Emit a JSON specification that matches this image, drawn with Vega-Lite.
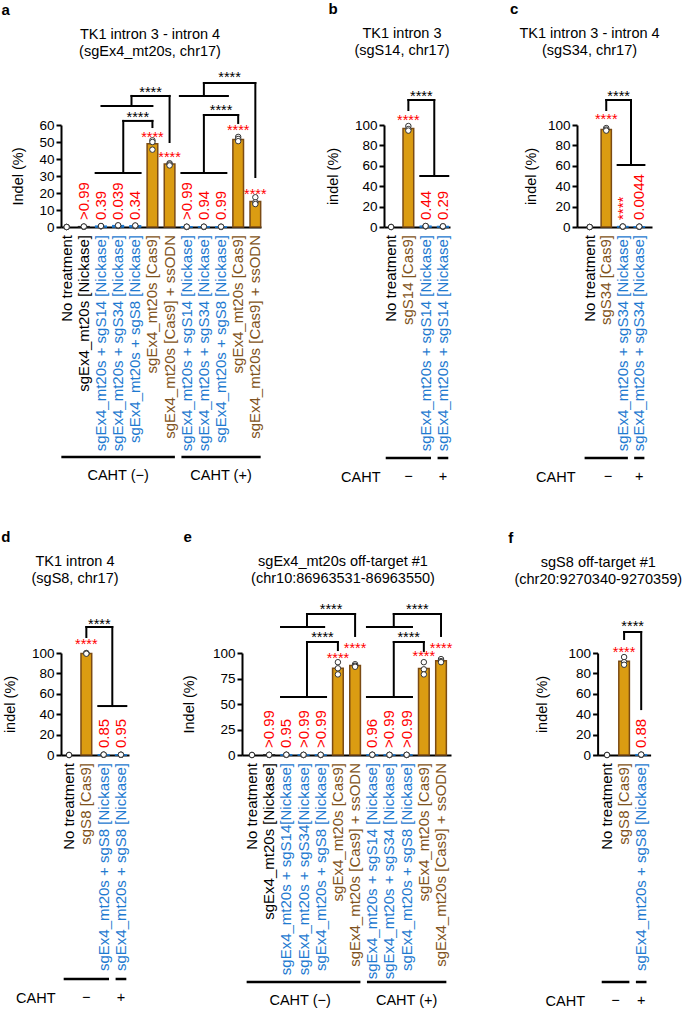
{
 "$schema": "https://vega.github.io/schema/vega-lite/v6.json",
 "padding": {"left": 1, "top": 2, "right": 0, "bottom": 0},
 "background": "white",
 "spacing": 46,
 "vconcat": [
  {"hconcat": [
   {"title": {"text": "a", "anchor": "start", "frame": "bounds", "fontSize": 15, "fontWeight": "bold", "offset": 9, "dx": -9.5},
    "bounds": "flush", "spacing": 230,
    "vconcat": [
     {"width": 200, "height": 102,
      "title": {"text": ["TK1 intron 3 - intron 4", "(sgEx4_mt20s, chr17)"], "frame": "group", "anchor": "middle", "dx": -11, "offset": 11, "lineHeight": 17},
      "resolve": {"scale": {"x": "independent"}},
      "layer": [
       {"layer": [
        {"data": {"name": "barsA", "values": [
          {"cat": "01", "label": "No treatment", "kind": "none", "val": 0},
          {"cat": "02", "label": "sgEx4_mt20s [Nickase]", "kind": "nick", "val": 0.2, "p": ">0.99"},
          {"cat": "03", "label": "sgEx4_mt20s + sgS14 [Nickase]", "kind": "combo", "val": 0.5, "p": "0.39"},
          {"cat": "04", "label": "sgEx4_mt20s + sgS34 [Nickase]", "kind": "combo", "val": 0.8, "p": "0.039"},
          {"cat": "05", "label": "sgEx4_mt20s + sgS8 [Nickase]", "kind": "combo", "val": 0.7, "p": "0.34"},
          {"cat": "06", "label": "sgEx4_mt20s [Cas9]", "kind": "cas9", "val": 49},
          {"cat": "07", "label": "sgEx4_mt20s [Cas9] + ssODN", "kind": "cas9", "val": 37},
          {"cat": "08", "label": "sgEx4_mt20s + sgS14 [Nickase]", "kind": "combo", "val": 0.1, "p": ">0.99"},
          {"cat": "09", "label": "sgEx4_mt20s + sgS34 [Nickase]", "kind": "combo", "val": 0.1, "p": "0.94"},
          {"cat": "10", "label": "sgEx4_mt20s + sgS8 [Nickase]", "kind": "combo", "val": 0.1, "p": "0.99"},
          {"cat": "11", "label": "sgEx4_mt20s [Cas9]", "kind": "cas9", "val": 51.5},
          {"cat": "12", "label": "sgEx4_mt20s [Cas9] + ssODN", "kind": "cas9", "val": 15}
         ]},
         "mark": {"type": "bar", "strokeWidth": 1.5},
         "encoding": {
          "x": {"field": "cat", "type": "nominal", "scale": {"paddingInner": 0.38, "paddingOuter": 0.02}, "axis": {"title": null, "labels": false, "ticks": false}},
          "y": {"field": "val", "type": "quantitative", "scale": {"domain": [0, 60], "nice": false}, "axis": {"title": "Indel (%)", "values": [0, 10, 20, 30, 40, 50, 60], "tickCount": 20, "titlePadding": 13, "labelOverlap": false}},
          "fill": {"field": "kind", "type": "nominal", "scale": {"domain": ["none", "nick", "combo", "cas9"], "range": ["rgba(0,0,0,0)", "#222222", "#1E7AD0", "#DB9C12"]}, "legend": null},
          "stroke": {"field": "kind", "type": "nominal", "scale": {"domain": ["none", "nick", "combo", "cas9"], "range": ["rgba(0,0,0,0)", "#222222", "#1E7AD0", "#7B4B14"]}, "legend": null}
         }},
        {"data": {"name": "barsA"},
         "mark": {"type": "text", "angle": 270, "align": "right", "baseline": "middle", "dx": -8, "fontSize": 15},
         "encoding": {"x": {"field": "cat", "type": "nominal"}, "y": {"datum": 0}, "text": {"field": "label"},
          "color": {"field": "kind", "type": "nominal", "scale": {"domain": ["none", "nick", "combo", "cas9"], "range": ["#000000", "#000000", "#1E7AD0", "#7F5320"]}, "legend": null}}},
        {"data": {"name": "barsA"}, "transform": [{"filter": "isValid(datum.p)"}],
         "mark": {"type": "text", "angle": 270, "align": "left", "baseline": "middle", "dx": 7, "fontSize": 15, "color": "#FF0000"},
         "encoding": {"x": {"field": "cat", "type": "nominal"}, "y": {"datum": 0}, "text": {"field": "p"}}},
        {"data": {"values": [
          {"cat": "01", "v": 0}, {"cat": "01", "v": 0}, {"cat": "01", "v": 0},
          {"cat": "02", "v": 0.1}, {"cat": "02", "v": 0.2}, {"cat": "02", "v": 0.3},
          {"cat": "03", "v": 0.4}, {"cat": "03", "v": 0.5}, {"cat": "03", "v": 0.6},
          {"cat": "04", "v": 0.6}, {"cat": "04", "v": 0.8}, {"cat": "04", "v": 1.0},
          {"cat": "05", "v": 0.5}, {"cat": "05", "v": 0.7}, {"cat": "05", "v": 0.9},
          {"cat": "06", "v": 51}, {"cat": "06", "v": 50}, {"cat": "06", "v": 45.5},
          {"cat": "07", "v": 37.5}, {"cat": "07", "v": 36.8}, {"cat": "07", "v": 36.2},
          {"cat": "08", "v": 0}, {"cat": "08", "v": 0.1}, {"cat": "08", "v": 0.2},
          {"cat": "09", "v": 0}, {"cat": "09", "v": 0.1}, {"cat": "09", "v": 0.2},
          {"cat": "10", "v": 0}, {"cat": "10", "v": 0.1}, {"cat": "10", "v": 0.2},
          {"cat": "11", "v": 53}, {"cat": "11", "v": 51.8}, {"cat": "11", "v": 50.5},
          {"cat": "12", "v": 17.5}, {"cat": "12", "v": 14.5}, {"cat": "12", "v": 13.5}
         ]},
         "mark": {"type": "point", "filled": true, "fill": "#ffffff", "stroke": "#333333", "strokeWidth": 1, "size": 30, "opacity": 1},
         "encoding": {"x": {"field": "cat", "type": "nominal"}, "y": {"field": "v", "type": "quantitative"}}},
        {"data": {"values": [{"cat": "06", "y": 54.1}, {"cat": "07", "y": 42.4}, {"cat": "11", "y": 58.2}, {"cat": "12", "y": 20.6}]},
         "mark": {"type": "text", "text": "****", "color": "#FF0000", "fontSize": 14.5, "baseline": "middle", "dy": 3},
         "encoding": {"x": {"field": "cat", "type": "nominal"}, "y": {"field": "y", "type": "quantitative"}}}
       ]},
       {"layer": [
        {"data": {"values": [
          {"x": 2.69, "x2": 5.31, "y": 31.8, "y2": 31.8}, {"x": 4.3, "x2": 4.3, "y": 31.8, "y2": 62.4}, {"x": 4.3, "x2": 6, "y": 62.4, "y2": 62.4}, {"x": 6, "x2": 6, "y": 62.4, "y2": 58.8},
          {"x": 3.03, "x2": 6.0, "y": 71.2, "y2": 71.2}, {"x": 4.78, "x2": 4.78, "y": 71.2, "y2": 77.1}, {"x": 4.78, "x2": 7, "y": 77.1, "y2": 77.1}, {"x": 7, "x2": 7, "y": 77.1, "y2": 50},
          {"x": 7.69, "x2": 10.31, "y": 31.8, "y2": 31.8}, {"x": 9, "x2": 9, "y": 31.8, "y2": 65.9}, {"x": 9, "x2": 11, "y": 65.9, "y2": 65.9}, {"x": 11, "x2": 11, "y": 65.9, "y2": 61.2},
          {"x": 7.6, "x2": 10.4, "y": 77.1, "y2": 77.1}, {"x": 9, "x2": 9, "y": 77.1, "y2": 84.7}, {"x": 9, "x2": 12, "y": 84.7, "y2": 84.7}, {"x": 12, "x2": 12, "y": 84.7, "y2": 29.4}
         ]},
         "mark": {"type": "rule", "strokeWidth": 2, "color": "#000000", "strokeCap": "square"},
         "encoding": {"x": {"field": "x", "type": "quantitative", "scale": {"domain": [0.67, 12.33], "nice": false, "zero": false}, "axis": null}, "x2": {"field": "x2"}, "y": {"field": "y", "type": "quantitative"}, "y2": {"field": "y2"}}},
        {"data": {"values": [{"x": 5.15, "y": 65.9}, {"x": 5.89, "y": 80.6}, {"x": 10, "y": 70}, {"x": 10.5, "y": 89.4}]},
         "mark": {"type": "text", "text": "****", "color": "#000000", "fontSize": 14.5, "baseline": "middle", "dy": 3},
         "encoding": {"x": {"field": "x", "type": "quantitative"}, "y": {"field": "y", "type": "quantitative"}}}
       ]}
      ]},
     {"width": 200, "height": 24,
      "data": {"values": [{"x": 0.69, "x2": 7.31, "m": 4, "t": "CAHT (−)"}, {"x": 7.69, "x2": 12.31, "m": 10, "t": "CAHT (+)"}]},
      "layer": [
       {"mark": {"type": "rule", "strokeWidth": 2.5, "color": "#000000"},
        "encoding": {"x": {"field": "x", "type": "quantitative", "scale": {"domain": [0.67, 12.33], "nice": false, "zero": false}, "axis": null}, "x2": {"field": "x2"},
         "y": {"datum": 1, "type": "quantitative", "scale": {"domain": [0, 1]}, "axis": null}}},
       {"mark": {"type": "text", "fontSize": 14.5, "baseline": "middle"},
        "encoding": {"x": {"field": "m", "type": "quantitative"}, "y": {"datum": 0.2}, "text": {"field": "t"}}}
      ]}
    ]},
   {"hconcat": [
   {"title": {"text": "b", "anchor": "start", "frame": "bounds", "fontSize": 15, "fontWeight": "bold", "offset": 9, "dx": 2.5},
    "bounds": "flush", "spacing": 231,
    "vconcat": [
     {"width": 66, "height": 102,
      "title": {"text": ["TK1 intron 3", "(sgS14, chr17)"], "frame": "group", "anchor": "middle", "dx": -15, "offset": 30, "lineHeight": 17},
      "resolve": {"scale": {"x": "independent"}},
      "layer": [
       {"layer": [
        {"data": {"name": "barsB", "values": [
          {"cat": "1", "label": "No treatment", "kind": "none", "val": 0},
          {"cat": "2", "label": "sgS14 [Cas9]", "kind": "cas9", "val": 96.5},
          {"cat": "3", "label": "sgEx4_mt20s + sgS14 [Nickase]", "kind": "combo", "val": 0.8, "p": "0.44"},
          {"cat": "4", "label": "sgEx4_mt20s + sgS14 [Nickase]", "kind": "combo", "val": 0.5, "p": "0.29"}
         ]},
         "mark": {"type": "bar", "strokeWidth": 1.5},
         "encoding": {
          "x": {"field": "cat", "type": "nominal", "scale": {"paddingInner": 0.38, "paddingOuter": 0.1}, "axis": {"title": null, "labels": false, "ticks": false}},
          "y": {"field": "val", "type": "quantitative", "scale": {"domain": [0, 100], "nice": false}, "axis": {"title": "indel (%)", "values": [0, 20, 40, 60, 80, 100], "tickCount": 20, "titlePadding": 13.5, "labelOverlap": false}},
          "fill": {"field": "kind", "type": "nominal", "scale": {"domain": ["none", "nick", "combo", "cas9"], "range": ["rgba(0,0,0,0)", "#222222", "#1E7AD0", "#DB9C12"]}, "legend": null},
          "stroke": {"field": "kind", "type": "nominal", "scale": {"domain": ["none", "nick", "combo", "cas9"], "range": ["rgba(0,0,0,0)", "#222222", "#1E7AD0", "#7B4B14"]}, "legend": null}
         }},
        {"data": {"name": "barsB"},
         "mark": {"type": "text", "angle": 270, "align": "right", "baseline": "middle", "dx": -8, "fontSize": 15},
         "encoding": {"x": {"field": "cat", "type": "nominal"}, "y": {"datum": 0}, "text": {"field": "label"},
          "color": {"field": "kind", "type": "nominal", "scale": {"domain": ["none", "nick", "combo", "cas9"], "range": ["#000000", "#000000", "#1E7AD0", "#7F5320"]}, "legend": null}}},
        {"data": {"name": "barsB"}, "transform": [{"filter": "isValid(datum.p)"}],
         "mark": {"type": "text", "angle": 270, "align": "left", "baseline": "middle", "dx": 7, "fontSize": 15, "color": "#FF0000"},
         "encoding": {"x": {"field": "cat", "type": "nominal"}, "y": {"datum": 0}, "text": {"field": "p"}}},
        {"data": {"values": [
          {"cat": "1", "v": 0}, {"cat": "1", "v": 0}, {"cat": "1", "v": 0},
          {"cat": "2", "v": 99}, {"cat": "2", "v": 96}, {"cat": "2", "v": 94.5},
          {"cat": "3", "v": 0.6}, {"cat": "3", "v": 0.8}, {"cat": "3", "v": 1.0},
          {"cat": "4", "v": 0.3}, {"cat": "4", "v": 0.5}, {"cat": "4", "v": 0.7}
         ]},
         "mark": {"type": "point", "filled": true, "fill": "#ffffff", "stroke": "#333333", "strokeWidth": 1, "size": 30, "opacity": 1},
         "encoding": {"x": {"field": "cat", "type": "nominal"}, "y": {"field": "v", "type": "quantitative"}}},
        {"data": {"values": [{"cat": "2", "y": 106.9}]},
         "mark": {"type": "text", "text": "****", "color": "#FF0000", "fontSize": 14.5, "baseline": "middle", "dy": 3},
         "encoding": {"x": {"field": "cat", "type": "nominal"}, "y": {"field": "y", "type": "quantitative"}}}
       ]},
       {"layer": [
        {"data": {"values": [
          {"x": 2.69, "x2": 4.31, "y": 50, "y2": 50}, {"x": 3.5, "x2": 3.5, "y": 50, "y2": 124.5}, {"x": 2, "x2": 3.5, "y": 124.5, "y2": 124.5}, {"x": 2, "x2": 2, "y": 124.5, "y2": 114.7}
         ]},
         "mark": {"type": "rule", "strokeWidth": 2, "color": "#000000", "strokeCap": "square"},
         "encoding": {"x": {"field": "x", "type": "quantitative", "scale": {"domain": [0.59, 4.41], "nice": false, "zero": false}, "axis": null}, "x2": {"field": "x2"}, "y": {"field": "y", "type": "quantitative"}, "y2": {"field": "y2"}}},
        {"data": {"values": [{"x": 2.75, "y": 130.4}]},
         "mark": {"type": "text", "text": "****", "color": "#000000", "fontSize": 14.5, "baseline": "middle", "dy": 3},
         "encoding": {"x": {"field": "x", "type": "quantitative"}, "y": {"field": "y", "type": "quantitative"}}}
       ]}
      ]},
     {"width": 66, "height": 24,
      "data": {"values": [{"x": 0.69, "x2": 3.31, "m": 2, "t": "−"}, {"x": 3.69, "x2": 4.31, "m": 4, "t": "+"}]},
      "layer": [
       {"mark": {"type": "rule", "strokeWidth": 2.5, "color": "#000000"},
        "encoding": {"x": {"field": "x", "type": "quantitative", "scale": {"domain": [0.59, 4.41], "nice": false, "zero": false}, "axis": null}, "x2": {"field": "x2"},
         "y": {"datum": 1, "type": "quantitative", "scale": {"domain": [0, 1]}, "axis": {"title": "CAHT", "domain": false, "ticks": false, "labels": false, "grid": false, "titleAngle": 0, "titleAlign": "right", "titleBaseline": "middle", "titleY": 19, "titlePadding": 4}}}},
       {"mark": {"type": "text", "fontSize": 14.5, "baseline": "middle"},
        "encoding": {"x": {"field": "m", "type": "quantitative"}, "y": {"datum": 0.2}, "text": {"field": "t"}}}
      ]}
    ]},
   {"title": {"text": "c", "anchor": "start", "frame": "bounds", "fontSize": 15, "fontWeight": "bold", "offset": 9, "dx": -9.5},
    "bounds": "flush", "spacing": 231,
    "vconcat": [
     {"width": 75, "height": 102,
      "title": {"text": ["TK1 intron 3 - intron 4", "(sgS34, chr17)"], "frame": "group", "anchor": "middle", "dx": -25, "offset": 30, "lineHeight": 17},
      "resolve": {"scale": {"x": "independent"}},
      "layer": [
       {"layer": [
        {"data": {"name": "barsC", "values": [
          {"cat": "1", "label": "No treatment", "kind": "none", "val": 0},
          {"cat": "2", "label": "sgS34 [Cas9]", "kind": "cas9", "val": 95.5},
          {"cat": "3", "label": "sgEx4_mt20s + sgS34 [Nickase]", "kind": "combo", "val": 0.4, "p": "****"},
          {"cat": "4", "label": "sgEx4_mt20s + sgS34 [Nickase]", "kind": "combo", "val": 0.3, "p": "0.0044"}
         ]},
         "mark": {"type": "bar", "strokeWidth": 1.5},
         "encoding": {
          "x": {"field": "cat", "type": "nominal", "scale": {"paddingInner": 0.38, "paddingOuter": 0.46}, "axis": {"title": null, "labels": false, "ticks": false}},
          "y": {"field": "val", "type": "quantitative", "scale": {"domain": [0, 100], "nice": false}, "axis": {"title": "indel (%)", "values": [0, 20, 40, 60, 80, 100], "tickCount": 20, "titlePadding": 8.5, "labelOverlap": false}},
          "fill": {"field": "kind", "type": "nominal", "scale": {"domain": ["none", "nick", "combo", "cas9"], "range": ["rgba(0,0,0,0)", "#222222", "#1E7AD0", "#DB9C12"]}, "legend": null},
          "stroke": {"field": "kind", "type": "nominal", "scale": {"domain": ["none", "nick", "combo", "cas9"], "range": ["rgba(0,0,0,0)", "#222222", "#1E7AD0", "#7B4B14"]}, "legend": null}
         }},
        {"data": {"name": "barsC"},
         "mark": {"type": "text", "angle": 270, "align": "right", "baseline": "middle", "dx": -8, "fontSize": 15},
         "encoding": {"x": {"field": "cat", "type": "nominal"}, "y": {"datum": 0}, "text": {"field": "label"},
          "color": {"field": "kind", "type": "nominal", "scale": {"domain": ["none", "nick", "combo", "cas9"], "range": ["#000000", "#000000", "#1E7AD0", "#7F5320"]}, "legend": null}}},
        {"data": {"name": "barsC"}, "transform": [{"filter": "isValid(datum.p)"}],
         "mark": {"type": "text", "angle": 270, "align": "left", "baseline": "middle", "dx": 7, "fontSize": 15, "color": "#FF0000"},
         "encoding": {"x": {"field": "cat", "type": "nominal"}, "y": {"datum": 0}, "text": {"field": "p"}}},
        {"data": {"values": [
          {"cat": "1", "v": 0}, {"cat": "1", "v": 0}, {"cat": "1", "v": 0},
          {"cat": "2", "v": 97}, {"cat": "2", "v": 95.5}, {"cat": "2", "v": 94.5},
          {"cat": "3", "v": 0.3}, {"cat": "3", "v": 0.4}, {"cat": "3", "v": 0.5},
          {"cat": "4", "v": 0.2}, {"cat": "4", "v": 0.3}, {"cat": "4", "v": 0.4}
         ]},
         "mark": {"type": "point", "filled": true, "fill": "#ffffff", "stroke": "#333333", "strokeWidth": 1, "size": 30, "opacity": 1},
         "encoding": {"x": {"field": "cat", "type": "nominal"}, "y": {"field": "v", "type": "quantitative"}}},
        {"data": {"values": [{"cat": "2", "y": 107.8}]},
         "mark": {"type": "text", "text": "****", "color": "#FF0000", "fontSize": 14.5, "baseline": "middle", "dy": 3},
         "encoding": {"x": {"field": "cat", "type": "nominal"}, "y": {"field": "y", "type": "quantitative"}}}
       ]},
       {"layer": [
        {"data": {"values": [
          {"x": 2.69, "x2": 4.31, "y": 60.8, "y2": 60.8}, {"x": 3.5, "x2": 3.5, "y": 60.8, "y2": 124.5}, {"x": 2, "x2": 3.5, "y": 124.5, "y2": 124.5}, {"x": 2, "x2": 2, "y": 124.5, "y2": 114.7}
         ]},
         "mark": {"type": "rule", "strokeWidth": 2, "color": "#000000", "strokeCap": "square"},
         "encoding": {"x": {"field": "x", "type": "quantitative", "scale": {"domain": [0.23, 4.77], "nice": false, "zero": false}, "axis": null}, "x2": {"field": "x2"}, "y": {"field": "y", "type": "quantitative"}, "y2": {"field": "y2"}}},
        {"data": {"values": [{"x": 2.75, "y": 130.4}]},
         "mark": {"type": "text", "text": "****", "color": "#000000", "fontSize": 14.5, "baseline": "middle", "dy": 3},
         "encoding": {"x": {"field": "x", "type": "quantitative"}, "y": {"field": "y", "type": "quantitative"}}}
       ]}
      ]},
     {"width": 75, "height": 24,
      "data": {"values": [{"x": 0.69, "x2": 3.31, "m": 2.1, "t": "−"}, {"x": 3.69, "x2": 4.31, "m": 4, "t": "+"}]},
      "layer": [
       {"mark": {"type": "rule", "strokeWidth": 2.5, "color": "#000000"},
        "encoding": {"x": {"field": "x", "type": "quantitative", "scale": {"domain": [0.23, 4.77], "nice": false, "zero": false}, "axis": null}, "x2": {"field": "x2"},
         "y": {"datum": 1, "type": "quantitative", "scale": {"domain": [0, 1]}, "axis": {"title": "CAHT", "domain": false, "ticks": false, "labels": false, "grid": false, "titleAngle": 0, "titleAlign": "right", "titleBaseline": "middle", "titleY": 19, "titlePadding": 2}}}},
       {"mark": {"type": "text", "fontSize": 14.5, "baseline": "middle"},
        "encoding": {"x": {"field": "m", "type": "quantitative"}, "y": {"datum": 0.2}, "text": {"field": "t"}}}
      ]}
    ]}
   ], "spacing": 58}
  ], "spacing": 58},
  {"hconcat": [
   {"title": {"text": "d", "anchor": "start", "frame": "bounds", "fontSize": 15, "fontWeight": "bold", "offset": 9, "dx": -1.5},
    "bounds": "flush", "spacing": 224,
    "vconcat": [
     {"width": 68, "height": 102,
      "title": {"text": ["TK1 intron 4", "(sgS8, chr17)"], "frame": "group", "anchor": "middle", "dx": -20, "offset": 30, "lineHeight": 17},
      "resolve": {"scale": {"x": "independent"}},
      "layer": [
       {"layer": [
        {"data": {"name": "barsD", "values": [
          {"cat": "1", "label": "No treatment", "kind": "none", "val": 0},
          {"cat": "2", "label": "sgS8 [Cas9]", "kind": "cas9", "val": 99.6},
          {"cat": "3", "label": "sgEx4_mt20s + sgS8 [Nickase]", "kind": "combo", "val": 0.3, "p": "0.85"},
          {"cat": "4", "label": "sgEx4_mt20s + sgS8 [Nickase]", "kind": "combo", "val": 0.2, "p": "0.95"}
         ]},
         "mark": {"type": "bar", "strokeWidth": 1.5},
         "encoding": {
          "x": {"field": "cat", "type": "nominal", "scale": {"paddingInner": 0.38, "paddingOuter": 0.155}, "axis": {"title": null, "labels": false, "ticks": false}},
          "y": {"field": "val", "type": "quantitative", "scale": {"domain": [0, 100], "nice": false}, "axis": {"title": "indel (%)", "values": [0, 20, 40, 60, 80, 100], "tickCount": 20, "titlePadding": 13.8, "labelOverlap": false}},
          "fill": {"field": "kind", "type": "nominal", "scale": {"domain": ["none", "nick", "combo", "cas9"], "range": ["rgba(0,0,0,0)", "#222222", "#1E7AD0", "#DB9C12"]}, "legend": null},
          "stroke": {"field": "kind", "type": "nominal", "scale": {"domain": ["none", "nick", "combo", "cas9"], "range": ["rgba(0,0,0,0)", "#222222", "#1E7AD0", "#7B4B14"]}, "legend": null}
         }},
        {"data": {"name": "barsD"},
         "mark": {"type": "text", "angle": 270, "align": "right", "baseline": "middle", "dx": -8, "fontSize": 15},
         "encoding": {"x": {"field": "cat", "type": "nominal"}, "y": {"datum": 0}, "text": {"field": "label"},
          "color": {"field": "kind", "type": "nominal", "scale": {"domain": ["none", "nick", "combo", "cas9"], "range": ["#000000", "#000000", "#1E7AD0", "#7F5320"]}, "legend": null}}},
        {"data": {"name": "barsD"}, "transform": [{"filter": "isValid(datum.p)"}],
         "mark": {"type": "text", "angle": 270, "align": "left", "baseline": "middle", "dx": 7, "fontSize": 15, "color": "#FF0000"},
         "encoding": {"x": {"field": "cat", "type": "nominal"}, "y": {"datum": 0}, "text": {"field": "p"}}},
        {"data": {"values": [
          {"cat": "1", "v": 0}, {"cat": "1", "v": 0}, {"cat": "1", "v": 0},
          {"cat": "2", "v": 100}, {"cat": "2", "v": 99.7}, {"cat": "2", "v": 99.3},
          {"cat": "3", "v": 0.2}, {"cat": "3", "v": 0.3}, {"cat": "3", "v": 0.4},
          {"cat": "4", "v": 0.1}, {"cat": "4", "v": 0.2}, {"cat": "4", "v": 0.3}
         ]},
         "mark": {"type": "point", "filled": true, "fill": "#ffffff", "stroke": "#333333", "strokeWidth": 1, "size": 30, "opacity": 1},
         "encoding": {"x": {"field": "cat", "type": "nominal"}, "y": {"field": "v", "type": "quantitative"}}},
        {"data": {"values": [{"cat": "2", "y": 110.8}]},
         "mark": {"type": "text", "text": "****", "color": "#FF0000", "fontSize": 14.5, "baseline": "middle", "dy": 3},
         "encoding": {"x": {"field": "cat", "type": "nominal"}, "y": {"field": "y", "type": "quantitative"}}}
       ]},
       {"layer": [
        {"data": {"values": [
          {"x": 2.69, "x2": 4.31, "y": 48, "y2": 48}, {"x": 3.5, "x2": 3.5, "y": 48, "y2": 125.5}, {"x": 2, "x2": 3.5, "y": 125.5, "y2": 125.5}, {"x": 2, "x2": 2, "y": 125.5, "y2": 115.7}
         ]},
         "mark": {"type": "rule", "strokeWidth": 2, "color": "#000000", "strokeCap": "square"},
         "encoding": {"x": {"field": "x", "type": "quantitative", "scale": {"domain": [0.535, 4.465], "nice": false, "zero": false}, "axis": null}, "x2": {"field": "x2"}, "y": {"field": "y", "type": "quantitative"}, "y2": {"field": "y2"}}},
        {"data": {"values": [{"x": 2.75, "y": 130.4}]},
         "mark": {"type": "text", "text": "****", "color": "#000000", "fontSize": 14.5, "baseline": "middle", "dy": 3},
         "encoding": {"x": {"field": "x", "type": "quantitative"}, "y": {"field": "y", "type": "quantitative"}}}
       ]}
      ]},
     {"width": 68, "height": 24,
      "data": {"values": [{"x": 0.69, "x2": 3.31, "m": 2, "t": "−"}, {"x": 3.69, "x2": 4.31, "m": 4, "t": "+"}]},
      "layer": [
       {"mark": {"type": "rule", "strokeWidth": 2.5, "color": "#000000"},
        "encoding": {"x": {"field": "x", "type": "quantitative", "scale": {"domain": [0.535, 4.465], "nice": false, "zero": false}, "axis": null}, "x2": {"field": "x2"},
         "y": {"datum": 1, "type": "quantitative", "scale": {"domain": [0, 1]}, "axis": {"title": "CAHT", "domain": false, "ticks": false, "labels": false, "grid": false, "titleAngle": 0, "titleAlign": "right", "titleBaseline": "middle", "titleY": 19, "titlePadding": 6}}}},
       {"mark": {"type": "text", "fontSize": 14.5, "baseline": "middle"},
        "encoding": {"x": {"field": "m", "type": "quantitative"}, "y": {"datum": 0.2}, "text": {"field": "t"}}}
      ]}
    ]},
   {"hconcat": [
   {"title": {"text": "e", "anchor": "start", "frame": "bounds", "fontSize": 15, "fontWeight": "bold", "offset": 9, "dx": 1.5},
    "bounds": "flush", "spacing": 227,
    "vconcat": [
     {"width": 209, "height": 102,
      "title": {"text": ["sgEx4_mt20s off-target #1", "(chr10:86963531-86963550)"], "frame": "group", "anchor": "middle", "dx": -3.5, "offset": 15, "lineHeight": 17},
      "resolve": {"scale": {"x": "independent"}},
      "layer": [
       {"layer": [
        {"data": {"name": "barsE", "values": [
          {"cat": "01", "label": "No treatment", "kind": "none", "val": 0},
          {"cat": "02", "label": "sgEx4_mt20s [Nickase]", "kind": "nick", "val": 0.1, "p": ">0.99"},
          {"cat": "03", "label": "sgEx4_mt20s + sgS14[Nickase]", "kind": "combo", "val": 0.2, "p": "0.95"},
          {"cat": "04", "label": "sgEx4_mt20s + sgS34[Nickase]", "kind": "combo", "val": 0.1, "p": ">0.99"},
          {"cat": "05", "label": "sgEx4_mt20s + sgS8 [Nickase]", "kind": "combo", "val": 0.1, "p": ">0.99"},
          {"cat": "06", "label": "sgEx4_mt20s [Cas9]", "kind": "cas9", "val": 85},
          {"cat": "07", "label": "sgEx4_mt20s [Cas9] + ssODN", "kind": "cas9", "val": 87.7},
          {"cat": "08", "label": "sgEx4_mt20s + sgS14 [Nickase]", "kind": "combo", "val": 0.2, "p": "0.96"},
          {"cat": "09", "label": "sgEx4_mt20s + sgS34 [Nickase]", "kind": "combo", "val": 0.1, "p": ">0.99"},
          {"cat": "10", "label": "sgEx4_mt20s + sgS8 [Nickase]", "kind": "combo", "val": 0.1, "p": ">0.99"},
          {"cat": "11", "label": "sgEx4_mt20s [Cas9]", "kind": "cas9", "val": 84.7},
          {"cat": "12", "label": "sgEx4_mt20s [Cas9] + ssODN", "kind": "cas9", "val": 92.3}
         ]},
         "mark": {"type": "bar", "strokeWidth": 1.5},
         "encoding": {
          "x": {"field": "cat", "type": "nominal", "scale": {"paddingInner": 0.38, "paddingOuter": 0.27}, "axis": {"title": null, "labels": false, "ticks": false}},
          "y": {"field": "val", "type": "quantitative", "scale": {"domain": [0, 100], "nice": false}, "axis": {"title": "Indel (%)", "values": [0, 25, 50, 75, 100], "tickCount": 20, "titlePadding": 15.5, "labelOverlap": false}},
          "fill": {"field": "kind", "type": "nominal", "scale": {"domain": ["none", "nick", "combo", "cas9"], "range": ["rgba(0,0,0,0)", "#222222", "#1E7AD0", "#DB9C12"]}, "legend": null},
          "stroke": {"field": "kind", "type": "nominal", "scale": {"domain": ["none", "nick", "combo", "cas9"], "range": ["rgba(0,0,0,0)", "#222222", "#1E7AD0", "#7B4B14"]}, "legend": null}
         }},
        {"data": {"name": "barsE"},
         "mark": {"type": "text", "angle": 270, "align": "right", "baseline": "middle", "dx": -8, "fontSize": 15},
         "encoding": {"x": {"field": "cat", "type": "nominal"}, "y": {"datum": 0}, "text": {"field": "label"},
          "color": {"field": "kind", "type": "nominal", "scale": {"domain": ["none", "nick", "combo", "cas9"], "range": ["#000000", "#000000", "#1E7AD0", "#7F5320"]}, "legend": null}}},
        {"data": {"name": "barsE"}, "transform": [{"filter": "isValid(datum.p)"}],
         "mark": {"type": "text", "angle": 270, "align": "left", "baseline": "middle", "dx": 7, "fontSize": 15, "color": "#FF0000"},
         "encoding": {"x": {"field": "cat", "type": "nominal"}, "y": {"datum": 0}, "text": {"field": "p"}}},
        {"data": {"values": [
          {"cat": "01", "v": 0}, {"cat": "01", "v": 0}, {"cat": "01", "v": 0},
          {"cat": "02", "v": 0}, {"cat": "02", "v": 0.1}, {"cat": "02", "v": 0.2},
          {"cat": "03", "v": 0.1}, {"cat": "03", "v": 0.2}, {"cat": "03", "v": 0.3},
          {"cat": "04", "v": 0}, {"cat": "04", "v": 0.1}, {"cat": "04", "v": 0.2},
          {"cat": "05", "v": 0}, {"cat": "05", "v": 0.1}, {"cat": "05", "v": 0.2},
          {"cat": "06", "v": 91}, {"cat": "06", "v": 85}, {"cat": "06", "v": 79},
          {"cat": "07", "v": 89}, {"cat": "07", "v": 87.5}, {"cat": "07", "v": 86.5},
          {"cat": "08", "v": 0.1}, {"cat": "08", "v": 0.2}, {"cat": "08", "v": 0.3},
          {"cat": "09", "v": 0}, {"cat": "09", "v": 0.1}, {"cat": "09", "v": 0.2},
          {"cat": "10", "v": 0}, {"cat": "10", "v": 0.1}, {"cat": "10", "v": 0.2},
          {"cat": "11", "v": 91}, {"cat": "11", "v": 84}, {"cat": "11", "v": 79},
          {"cat": "12", "v": 94}, {"cat": "12", "v": 92}, {"cat": "12", "v": 91}
         ]},
         "mark": {"type": "point", "filled": true, "fill": "#ffffff", "stroke": "#333333", "strokeWidth": 1, "size": 30, "opacity": 1},
         "encoding": {"x": {"field": "cat", "type": "nominal"}, "y": {"field": "v", "type": "quantitative"}}},
        {"data": {"values": [{"cat": "06", "y": 97}, {"cat": "07", "y": 106.9}, {"cat": "11", "y": 99}, {"cat": "12", "y": 106.9}]},
         "mark": {"type": "text", "text": "****", "color": "#FF0000", "fontSize": 14.5, "baseline": "middle", "dy": 3},
         "encoding": {"x": {"field": "cat", "type": "nominal"}, "y": {"field": "y", "type": "quantitative"}}}
       ]},
       {"layer": [
        {"data": {"values": [
          {"x": 2.69, "x2": 5.31, "y": 56.9, "y2": 56.9}, {"x": 4.2, "x2": 4.2, "y": 56.9, "y2": 110.8}, {"x": 4.2, "x2": 6, "y": 110.8, "y2": 110.8}, {"x": 6, "x2": 6, "y": 110.8, "y2": 102.9},
          {"x": 2.69, "x2": 5.2, "y": 125.5, "y2": 125.5}, {"x": 4.2, "x2": 4.2, "y": 125.5, "y2": 138.2}, {"x": 4.2, "x2": 7, "y": 138.2, "y2": 138.2}, {"x": 7, "x2": 7, "y": 138.2, "y2": 116.7},
          {"x": 7.69, "x2": 10.31, "y": 56.9, "y2": 56.9}, {"x": 9.25, "x2": 9.25, "y": 56.9, "y2": 110.8}, {"x": 9.25, "x2": 11, "y": 110.8, "y2": 110.8}, {"x": 11, "x2": 11, "y": 110.8, "y2": 102},
          {"x": 7.69, "x2": 10.31, "y": 125.5, "y2": 125.5}, {"x": 9.25, "x2": 9.25, "y": 125.5, "y2": 138.2}, {"x": 9.25, "x2": 12, "y": 138.2, "y2": 138.2}, {"x": 12, "x2": 12, "y": 138.2, "y2": 116.7}
         ]},
         "mark": {"type": "rule", "strokeWidth": 2, "color": "#000000", "strokeCap": "square"},
         "encoding": {"x": {"field": "x", "type": "quantitative", "scale": {"domain": [0.42, 12.58], "nice": false, "zero": false}, "axis": null}, "x2": {"field": "x2"}, "y": {"field": "y", "type": "quantitative"}, "y2": {"field": "y2"}}},
        {"data": {"values": [{"x": 5.1, "y": 117.6}, {"x": 5.6, "y": 145.1}, {"x": 10.12, "y": 117.6}, {"x": 10.62, "y": 145.1}]},
         "mark": {"type": "text", "text": "****", "color": "#000000", "fontSize": 14.5, "baseline": "middle", "dy": 3},
         "encoding": {"x": {"field": "x", "type": "quantitative"}, "y": {"field": "y", "type": "quantitative"}}}
       ]}
      ]},
     {"width": 209, "height": 24,
      "data": {"values": [{"x": 0.69, "x2": 7.31, "m": 3.8, "t": "CAHT (−)"}, {"x": 7.69, "x2": 12.31, "m": 10, "t": "CAHT (+)"}]},
      "layer": [
       {"mark": {"type": "rule", "strokeWidth": 2.5, "color": "#000000"},
        "encoding": {"x": {"field": "x", "type": "quantitative", "scale": {"domain": [0.42, 12.58], "nice": false, "zero": false}, "axis": null}, "x2": {"field": "x2"},
         "y": {"datum": 1, "type": "quantitative", "scale": {"domain": [0, 1]}, "axis": null}}},
       {"mark": {"type": "text", "fontSize": 14.5, "baseline": "middle"},
        "encoding": {"x": {"field": "m", "type": "quantitative"}, "y": {"datum": 0.2}, "text": {"field": "t"}}}
      ]}
    ]},
   {"title": {"text": "f", "anchor": "start", "frame": "bounds", "fontSize": 15, "fontWeight": "bold", "offset": 9, "dx": -6.2},
    "bounds": "flush", "spacing": 227,
    "vconcat": [
     {"width": 53, "height": 102,
      "title": {"text": ["sgS8 off-target #1", "(chr20:9270340-9270359)"], "frame": "group", "anchor": "middle", "dx": -25.8, "offset": 32, "lineHeight": 17},
      "resolve": {"scale": {"x": "independent"}},
      "layer": [
       {"layer": [
        {"data": {"name": "barsF", "values": [
          {"cat": "1", "label": "No treatment", "kind": "none", "val": 0},
          {"cat": "2", "label": "sgS8 [Cas9]", "kind": "cas9", "val": 91.8},
          {"cat": "3", "label": "sgEx4_mt20s + sgS8 [Nickase]", "kind": "combo", "val": 0.3, "p": "0.88"}
         ]},
         "mark": {"type": "bar", "strokeWidth": 1.5},
         "encoding": {
          "x": {"field": "cat", "type": "nominal", "scale": {"paddingInner": 0.38, "paddingOuter": 0.24}, "axis": {"title": null, "labels": false, "ticks": false}},
          "y": {"field": "val", "type": "quantitative", "scale": {"domain": [0, 100], "nice": false}, "axis": {"title": "indel (%)", "values": [0, 20, 40, 60, 80, 100], "tickCount": 20, "titlePadding": 18.8, "labelOverlap": false}},
          "fill": {"field": "kind", "type": "nominal", "scale": {"domain": ["none", "nick", "combo", "cas9"], "range": ["rgba(0,0,0,0)", "#222222", "#1E7AD0", "#DB9C12"]}, "legend": null},
          "stroke": {"field": "kind", "type": "nominal", "scale": {"domain": ["none", "nick", "combo", "cas9"], "range": ["rgba(0,0,0,0)", "#222222", "#1E7AD0", "#7B4B14"]}, "legend": null}
         }},
        {"data": {"name": "barsF"},
         "mark": {"type": "text", "angle": 270, "align": "right", "baseline": "middle", "dx": -8, "fontSize": 15},
         "encoding": {"x": {"field": "cat", "type": "nominal"}, "y": {"datum": 0}, "text": {"field": "label"},
          "color": {"field": "kind", "type": "nominal", "scale": {"domain": ["none", "nick", "combo", "cas9"], "range": ["#000000", "#000000", "#1E7AD0", "#7F5320"]}, "legend": null}}},
        {"data": {"name": "barsF"}, "transform": [{"filter": "isValid(datum.p)"}],
         "mark": {"type": "text", "angle": 270, "align": "left", "baseline": "middle", "dx": 7, "fontSize": 15, "color": "#FF0000"},
         "encoding": {"x": {"field": "cat", "type": "nominal"}, "y": {"datum": 0}, "text": {"field": "p"}}},
        {"data": {"values": [
          {"cat": "1", "v": 0}, {"cat": "1", "v": 0}, {"cat": "1", "v": 0},
          {"cat": "2", "v": 96}, {"cat": "2", "v": 91}, {"cat": "2", "v": 88.5},
          {"cat": "3", "v": 0.2}, {"cat": "3", "v": 0.3}, {"cat": "3", "v": 0.4}
         ]},
         "mark": {"type": "point", "filled": true, "fill": "#ffffff", "stroke": "#333333", "strokeWidth": 1, "size": 30, "opacity": 1},
         "encoding": {"x": {"field": "cat", "type": "nominal"}, "y": {"field": "v", "type": "quantitative"}}},
        {"data": {"values": [{"cat": "2", "y": 103}]},
         "mark": {"type": "text", "text": "****", "color": "#FF0000", "fontSize": 14.5, "baseline": "middle", "dy": 3},
         "encoding": {"x": {"field": "cat", "type": "nominal"}, "y": {"field": "y", "type": "quantitative"}}}
       ]},
       {"layer": [
        {"data": {"values": [
          {"x": 2, "x2": 3, "y": 120.6, "y2": 120.6}, {"x": 2, "x2": 2, "y": 120.6, "y2": 113.7}, {"x": 3, "x2": 3, "y": 120.6, "y2": 45}
         ]},
         "mark": {"type": "rule", "strokeWidth": 2, "color": "#000000", "strokeCap": "square"},
         "encoding": {"x": {"field": "x", "type": "quantitative", "scale": {"domain": [0.45, 3.55], "nice": false, "zero": false}, "axis": null}, "x2": {"field": "x2"}, "y": {"field": "y", "type": "quantitative"}, "y2": {"field": "y2"}}},
        {"data": {"values": [{"x": 2.5, "y": 128.4}]},
         "mark": {"type": "text", "text": "****", "color": "#000000", "fontSize": 14.5, "baseline": "middle", "dy": 3},
         "encoding": {"x": {"field": "x", "type": "quantitative"}, "y": {"field": "y", "type": "quantitative"}}}
       ]}
      ]},
     {"width": 53, "height": 24,
      "data": {"values": [{"x": 0.69, "x2": 2.31, "m": 1.5, "t": "−"}, {"x": 2.69, "x2": 3.31, "m": 3, "t": "+"}]},
      "layer": [
       {"mark": {"type": "rule", "strokeWidth": 2.5, "color": "#000000"},
        "encoding": {"x": {"field": "x", "type": "quantitative", "scale": {"domain": [0.45, 3.55], "nice": false, "zero": false}, "axis": null}, "x2": {"field": "x2"},
         "y": {"datum": 1, "type": "quantitative", "scale": {"domain": [0, 1]}, "axis": {"title": "CAHT", "domain": false, "ticks": false, "labels": false, "grid": false, "titleAngle": 0, "titleAlign": "right", "titleBaseline": "middle", "titleY": 19, "titlePadding": 13}}}},
       {"mark": {"type": "text", "fontSize": 14.5, "baseline": "middle"},
        "encoding": {"x": {"field": "m", "type": "quantitative"}, "y": {"datum": 0.2}, "text": {"field": "t"}}}
      ]}
    ]}
   ], "spacing": 54.6}
  ], "spacing": 52}
 ],
 "config": {
  "font": "Liberation Sans",
  "view": {"stroke": null},
  "axis": {"labelFontSize": 13.5, "titleFontSize": 14.5, "titleFontWeight": "normal", "labelColor": "#000000", "titleColor": "#000000", "domainColor": "#000000", "tickColor": "#000000", "domainWidth": 2, "tickWidth": 2, "tickSize": 5, "labelPadding": 2, "grid": false, "labelOverlap": false, "labelFlush": false},
  "title": {"fontSize": 14.5, "fontWeight": "normal", "color": "#000000"}
 }
}
